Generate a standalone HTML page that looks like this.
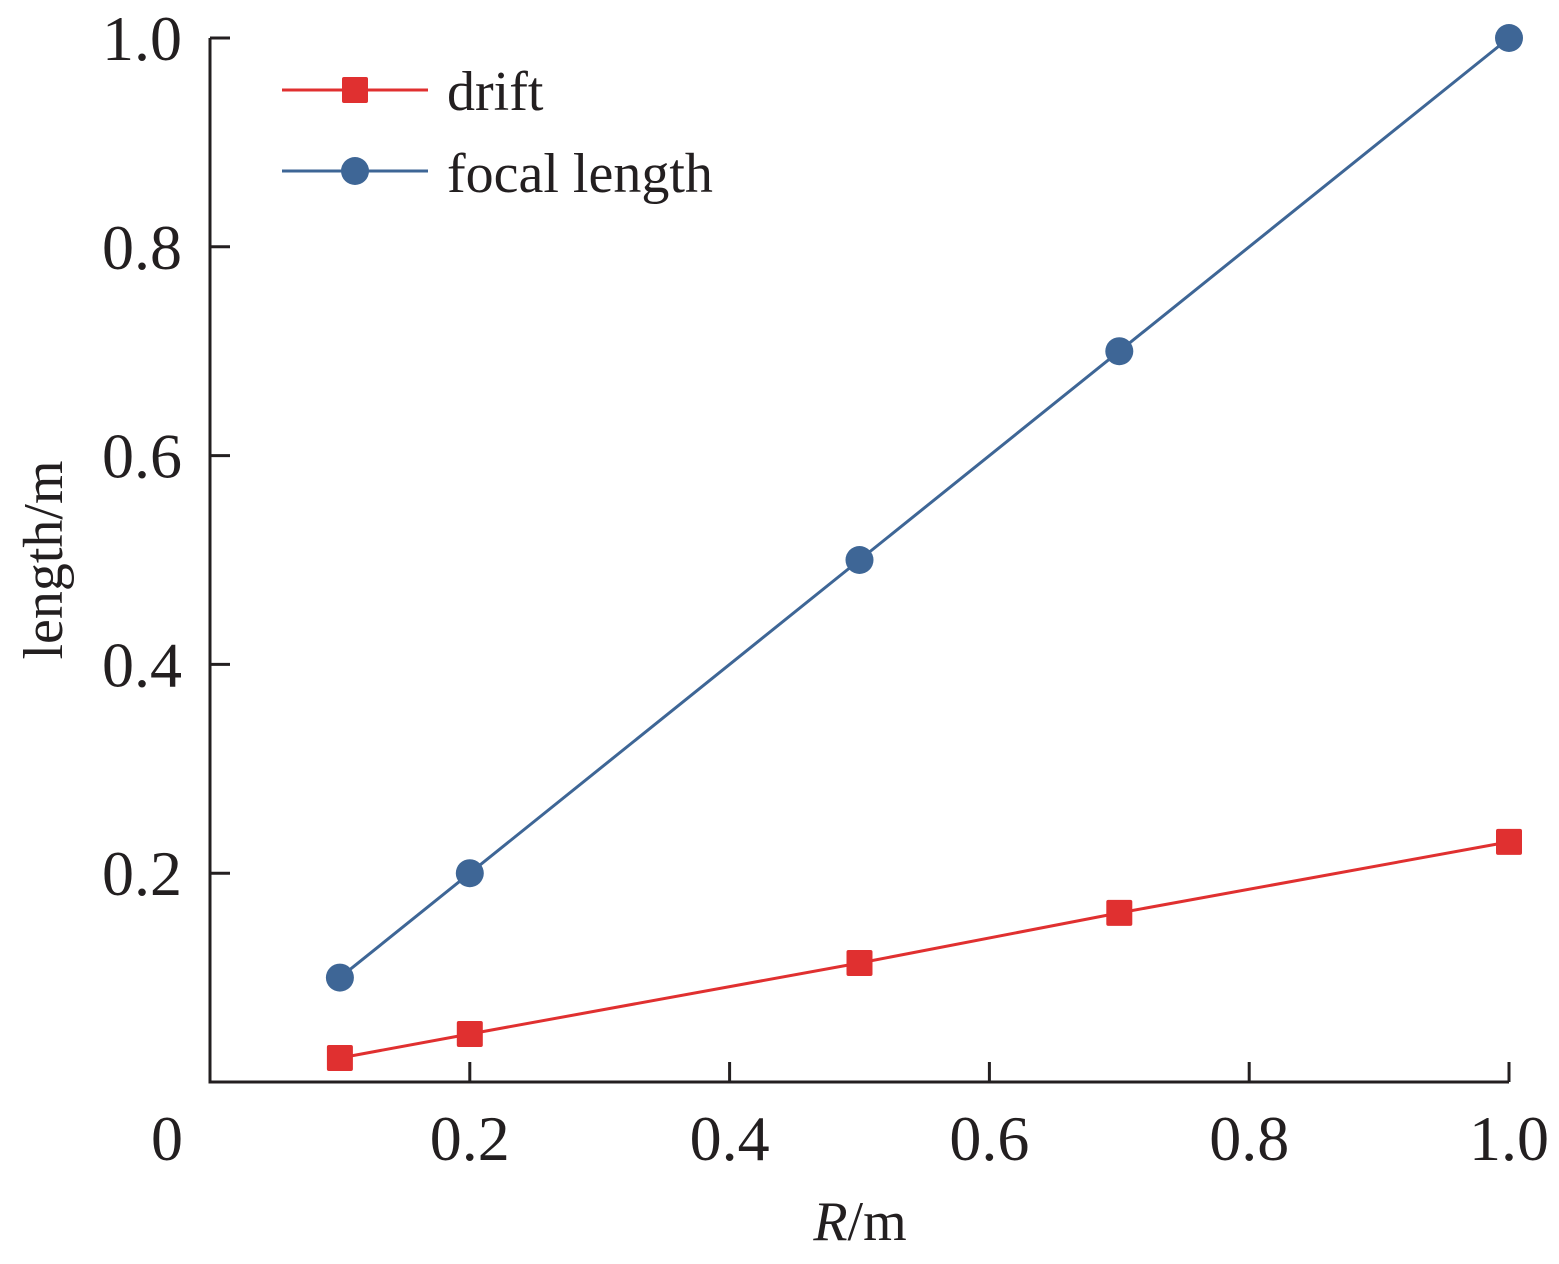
<!DOCTYPE html>
<html><head><meta charset="utf-8"><style>
body{margin:0;background:#fff;}
svg text{font-family:"Liberation Serif",serif;fill:#231f20;}
</style></head><body>
<svg width="1559" height="1259" viewBox="0 0 1559 1259">
<g id="axes"></g><g id="series"></g>
<g>
 <line x1="282" y1="90" x2="428" y2="90" stroke="#e03030" stroke-width="3"/>
 <rect x="342" y="77" width="26" height="26" rx="2" fill="#e03030"/>
 <text x="447" y="110" font-size="56">drift</text>
 <line x1="282" y1="171" x2="428" y2="171" stroke="#3e6696" stroke-width="3"/>
 <circle cx="355" cy="171" r="14" fill="#3e6696"/>
 <text x="447" y="192" font-size="56">focal length</text>
</g>
<text x="860" y="1240" font-size="56" text-anchor="middle"><tspan font-style="italic">R</tspan>/m</text>
<text transform="translate(62,560) rotate(-90)" font-size="56" text-anchor="middle">length/m</text>
</svg>
<script>
const xs=[0.1,0.2,0.5,0.7,1.0];
const focal=[0.1,0.2,0.5,0.7,1.0];
const drift=[0.023,0.046,0.114,0.162,0.23];
const xTicks=[0.2,0.4,0.6,0.8,1.0];
const xTickLabels=["0.2","0.4","0.6","0.8","1.0"];
const yTicks=[0.2,0.4,0.6,0.8,1.0];
const yTickLabels=["0.2","0.4","0.6","0.8","1.0"];
const NS="http://www.w3.org/2000/svg";
const X=v=>210+1299*v, Y=v=>1082-1044*v;
function mk(t,a,p){const e=document.createElementNS(NS,t);for(const k in a)e.setAttribute(k,a[k]);p.appendChild(e);return e;}
const ax=document.getElementById('axes'), se=document.getElementById('series');
let e=mk('path',{d:`M210 ${Y(1)} V1082 H1509`,fill:'none',stroke:'#231f20','stroke-width':3},ax);


let z=mk('text',{x:167,y:1160,'font-size':64,'text-anchor':'middle'},ax);z.textContent='0';


xTicks.forEach((v,i)=>{
 const l=mk('line',{x1:X(v),x2:X(v),y1:1062,y2:1082,stroke:'#231f20','stroke-width':3},ax);
 
 
 const t=mk('text',{x:X(v),y:1160,'font-size':64,'text-anchor':'middle'},ax);t.textContent=xTickLabels[i];
 
 
});
yTicks.forEach((v,i)=>{
 const l=mk('line',{x1:210,x2:230,y1:Y(v),y2:Y(v),stroke:'#231f20','stroke-width':3},ax);
 
 
 const t=mk('text',{x:182,y:Y(v)+22,'font-size':64,'text-anchor':'end'},ax);t.textContent=yTickLabels[i];
 
 
});
function series(vals,color,name,sq){
 const p=mk('polyline',{points:xs.map((x,i)=>X(x)+','+Y(vals[i])).join(' '),fill:'none',stroke:color,'stroke-width':3},se);
 
 
 xs.forEach((x,i)=>{
  const m=sq?mk('rect',{x:X(x)-13,y:Y(vals[i])-13,width:26,height:26,rx:2,fill:color},se):mk('circle',{cx:X(x),cy:Y(vals[i]),r:14,fill:color},se);
  
  
 });
}
series(focal,'#3e6696','focal-length',false);
series(drift,'#e03030','drift',true);
</script>
</body></html>
